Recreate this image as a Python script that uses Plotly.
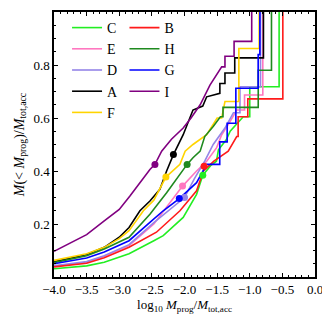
import plotly.graph_objects as go

# ---- data ----
names = ["C", "E", "D", "A", "F", "B", "H", "G", "I"]
colors = {"C": "#22ee22", "E": "#ff77c0", "D": "#9585e8", "A": "#000000", "F": "#ffd400",
          "B": "#ff1a1a", "H": "#1f8a1f", "G": "#0000ff", "I": "#800080"}

C_x = [-4.0, -3.5, -3.23, -2.85, -2.47, -2.326, -2.02, -1.815, -1.72, -1.6, -1.51, -1.48, -1.36, -1.30, -1.1, -1.0, -1.0, -0.55, -0.55]
C_y = [0.031, 0.042, 0.056, 0.088, 0.137, 0.156, 0.225, 0.312, 0.384, 0.42, 0.437, 0.48, 0.518, 0.55, 0.605, 0.605, 0.718, 0.718, 1.0]

E_x = [-4.0, -3.5, -3.23, -2.85, -2.47, -2.03, -1.815, -1.66, -1.51, -1.43, -1.30, -1.20, -1.08, -1.08, -0.80, -0.80]
E_y = [0.040, 0.055, 0.078, 0.119, 0.200, 0.343, 0.400, 0.437, 0.487, 0.537, 0.587, 0.630, 0.630, 0.687, 0.687, 1.0]

D_x = [-4.0, -3.5, -3.23, -2.85, -2.47, -2.2, -2.0, -1.85, -1.69, -1.56, -1.38, -1.25, -1.15, -1.15, -0.835, -0.835]
D_y = [0.042, 0.058, 0.080, 0.122, 0.205, 0.260, 0.300, 0.370, 0.437, 0.500, 0.562, 0.620, 0.620, 0.718, 0.718, 1.0]

A_x = [-4.0, -3.5, -3.23, -3.0, -2.85, -2.683, -2.53, -2.377, -2.274, -2.17, -2.02, -1.87, -1.72, -1.66, -1.458, -1.458, -1.38, -1.38, -1.23, -1.23, -0.79, -0.79]
A_y = [0.058, 0.085, 0.112, 0.150, 0.187, 0.250, 0.287, 0.331, 0.400, 0.462, 0.537, 0.630, 0.645, 0.680, 0.693, 0.730, 0.730, 0.770, 0.770, 0.827, 0.827, 1.0]

F_x = [-4.0, -3.5, -3.23, -3.0, -2.85, -2.63, -2.47, -2.285, -2.07, -1.99, -1.87, -1.66, -1.5, -1.43, -1.38, -1.167, -1.167, -0.856, -0.856]
F_y = [0.0625, 0.088, 0.112, 0.145, 0.175, 0.250, 0.290, 0.377, 0.425, 0.475, 0.500, 0.537, 0.600, 0.600, 0.662, 0.662, 0.862, 0.862, 1.0]

B_x = [-4.0, -3.5, -3.23, -2.85, -2.43, -2.07, -1.815, -1.71, -1.55, -1.33, -1.20, -1.178, -1.178, -1.03, -1.03, -0.493, -0.493]
B_y = [0.038, 0.052, 0.073, 0.112, 0.169, 0.250, 0.325, 0.400, 0.437, 0.475, 0.530, 0.530, 0.605, 0.605, 0.672, 0.672, 1.0]

H_x = [-4.0, -3.5, -3.23, -2.85, -2.53, -2.274, -1.96, -1.87, -1.76, -1.69, -1.56, -1.45, -1.41, -1.41, -0.87, -0.87, -0.667, -0.667]
H_y = [0.054, 0.080, 0.106, 0.150, 0.237, 0.318, 0.425, 0.450, 0.475, 0.530, 0.568, 0.605, 0.605, 0.640, 0.640, 0.780, 0.780, 1.0]

G_x = [-4.0, -3.5, -3.23, -2.85, -2.53, -2.326, -2.08, -1.815, -1.66, -1.46, -1.46, -1.346, -1.346, -1.213, -1.213, -0.871, -0.871, -0.845, -0.845]
G_y = [0.050, 0.072, 0.094, 0.137, 0.206, 0.250, 0.296, 0.356, 0.425, 0.425, 0.510, 0.510, 0.580, 0.580, 0.712, 0.712, 0.839, 0.839, 1.0]

I_x = [-4.0, -3.5, -3.23, -3.0, -2.836, -2.683, -2.53, -2.453, -2.35, -2.2, -2.02, -1.9, -1.76, -1.61, -1.43, -1.38, -1.38, -1.24, -1.24, -0.97, -0.97]
I_y = [0.097, 0.160, 0.212, 0.255, 0.306, 0.356, 0.406, 0.425, 0.475, 0.520, 0.562, 0.600, 0.650, 0.724, 0.793, 0.793, 0.833, 0.833, 0.889, 0.889, 1.0]

curves = {"C": (C_x, C_y), "E": (E_x, E_y), "D": (D_x, D_y), "A": (A_x, A_y), "F": (F_x, F_y),
          "B": (B_x, B_y), "H": (H_x, H_y), "G": (G_x, G_y), "I": (I_x, I_y)}

# dot markers on each curve
dot_x = {"C": -1.72, "E": -2.03, "D": -2.0, "A": -2.17, "F": -2.285, "B": -1.70, "H": -1.96, "G": -2.08, "I": -2.453}
dot_y = {"C": 0.384, "E": 0.343, "D": 0.300, "A": 0.462, "F": 0.377, "B": 0.418, "H": 0.425, "G": 0.296, "I": 0.425}

col1 = ["C", "E", "D", "A", "F"]
col2 = ["B", "H", "G", "I"]

FONT = "Liberation Serif, Times New Roman, serif"

fig = go.Figure()
for n in names:
    x, y = curves[n]
    fig.add_trace(go.Scatter(x=x, y=y, mode="lines", line=dict(color=colors[n], width=1.6),
                             name=n, legend="legend" if n in col1 else "legend2"))
for n in names:
    fig.add_trace(go.Scatter(x=[dot_x[n]], y=[dot_y[n]], mode="markers",
                             marker=dict(color=colors[n], size=7), showlegend=False))

axis_common = dict(showline=True, linecolor="black", linewidth=1.5, mirror="allticks",
                   ticks="inside", ticklen=4, tickwidth=1, tickcolor="black",
                   showgrid=False, zeroline=False,
                   tickfont=dict(family=FONT, size=13, color="black"))

fig.update_xaxes(range=[-4, 0], tickvals=[-4.0, -3.5, -3.0, -2.5, -2.0, -1.5, -1.0, -0.5, 0.0],
                 tickformat=".1f",
                 minor=dict(ticks="inside", ticklen=2, dtick=0.1, tickcolor="black", showgrid=False),
                 title=dict(text="log<sub>10</sub> <i>M</i><sub>prog</sub>/<i>M</i><sub>tot,acc</sub>",
                            font=dict(family=FONT, size=13, color="black"), standoff=2),
                 **axis_common)
fig.update_yaxes(range=[0, 1.0], tickvals=[0.2, 0.4, 0.6, 0.8], tickformat=".1f",
                 minor=dict(ticks="inside", ticklen=2, dtick=0.05, tickcolor="black", showgrid=False),
                 title=dict(text="<i>M</i>(&lt; <i>M</i><sub>prog</sub>)/<i>M</i><sub>tot,acc</sub>",
                            font=dict(family=FONT, size=14, color="black"), standoff=6),
                 **axis_common)

leg_common = dict(bgcolor="rgba(0,0,0,0)", font=dict(family=FONT, size=14, color="black"),
                  itemwidth=30, tracegroupgap=0, xanchor="left", yanchor="top")
fig.update_layout(
    width=322, height=316,
    margin=dict(l=46, r=15, t=2, b=47),
    plot_bgcolor="white", paper_bgcolor="white",
    legend=dict(x=0.05, y=1.0, **leg_common),
    legend2=dict(x=0.27, y=1.0, **leg_common),
)

fig.write_html("out.html")
